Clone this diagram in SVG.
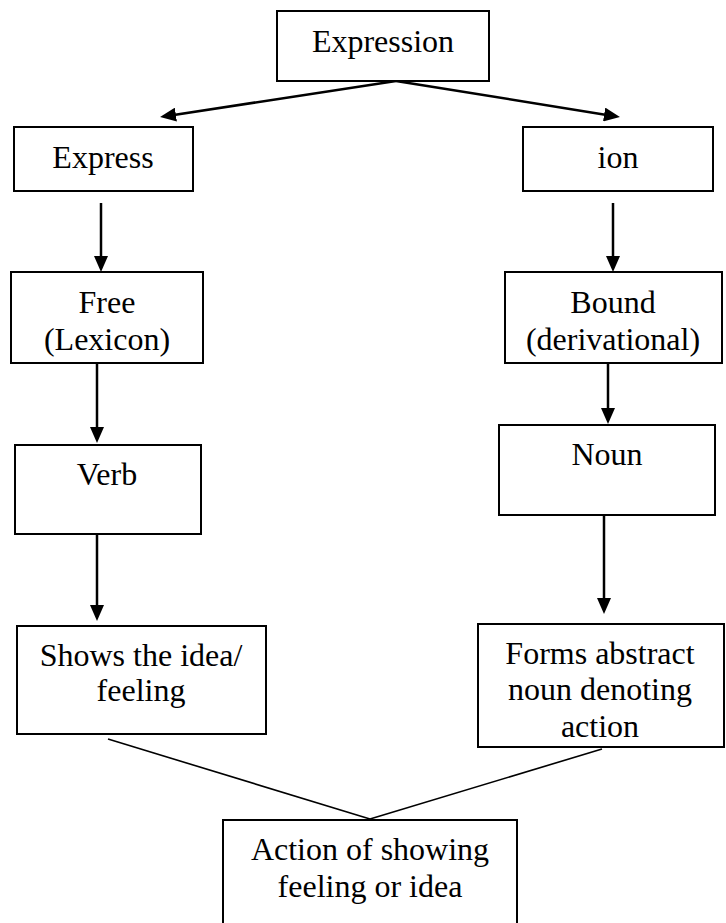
<svg xmlns="http://www.w3.org/2000/svg" width="726" height="923" viewBox="0 0 726 923">
  <style>
    .box { fill: #ffffff; stroke: #000000; stroke-width: 2; }
    .label { font-family: 'Liberation Serif', 'Tinos', 'DejaVu Serif', 'Noto Serif', serif; font-size: 32px; fill: #000000; text-anchor: middle; }
    .arrow { stroke: #000000; stroke-width: 2.5; fill: none; marker-end: url(#head); }
    .join { stroke: #000000; stroke-width: 1.6; fill: none; }
  </style>
  <defs>
    <marker id="head" viewBox="0 0 16 14" refX="12" refY="7" markerWidth="16" markerHeight="14" markerUnits="userSpaceOnUse" orient="auto">
      <path d="M0,0 L16,7 L0,14 z" fill="#000000"/>
    </marker>
  </defs>
  <rect width="726" height="923" fill="#ffffff"/>

  <!-- connectors -->
  <g id="connectors">
    <line class="arrow" x1="396" y1="81" x2="164" y2="116.4"/>
    <line class="arrow" x1="396" y1="81" x2="616" y2="116.4"/>
    <line class="arrow" x1="101" y1="203" x2="101" y2="268"/>
    <line class="arrow" x1="613" y1="203" x2="613" y2="268"/>
    <line class="arrow" x1="97" y1="363" x2="97" y2="439"/>
    <line class="arrow" x1="608" y1="363" x2="608" y2="420"/>
    <line class="arrow" x1="97" y1="533" x2="97" y2="617"/>
    <line class="arrow" x1="604" y1="515" x2="604" y2="610"/>
    <line class="join" x1="108" y1="739" x2="370" y2="819"/>
    <line class="join" x1="602" y1="749" x2="370" y2="819"/>
  </g>

  <!-- nodes -->
  <g id="expression">
    <rect class="box" x="277" y="11" width="212" height="70"/>
    <text class="label" x="383" y="52" font-family="Liberation Serif, serif">Expression</text>
  </g>
  <g id="express">
    <rect class="box" x="14" y="127" width="179" height="64"/>
    <text class="label" x="103" y="168">Express</text>
  </g>
  <g id="ion">
    <rect class="box" x="523" y="127" width="190" height="64"/>
    <text class="label" x="618" y="168">ion</text>
  </g>
  <g id="free">
    <rect class="box" x="11" y="272" width="192" height="91"/>
    <text class="label" x="107" y="313">Free</text>
    <text class="label" x="107" y="350">(Lexicon)</text>
  </g>
  <g id="bound">
    <rect class="box" x="505" y="272" width="217" height="91"/>
    <text class="label" x="613" y="313">Bound</text>
    <text class="label" x="613" y="350">(derivational)</text>
  </g>
  <g id="verb">
    <rect class="box" x="15" y="445" width="186" height="89"/>
    <text class="label" x="107" y="485">Verb</text>
  </g>
  <g id="noun">
    <rect class="box" x="499" y="425" width="216" height="90"/>
    <text class="label" x="607" y="465">Noun</text>
  </g>
  <g id="shows">
    <rect class="box" x="17" y="626" width="249" height="108"/>
    <text class="label" x="141" y="666">Shows the idea/</text>
    <text class="label" x="141" y="701">feeling</text>
  </g>
  <g id="forms">
    <rect class="box" x="478" y="624" width="246" height="123"/>
    <text class="label" x="600" y="664">Forms abstract</text>
    <text class="label" x="600" y="700">noun denoting</text>
    <text class="label" x="600" y="737">action</text>
  </g>
  <g id="action">
    <rect class="box" x="223" y="820" width="294" height="130"/>
    <text class="label" x="370" y="860">Action of showing</text>
    <text class="label" x="370" y="897">feeling or idea</text>
  </g>
</svg>
